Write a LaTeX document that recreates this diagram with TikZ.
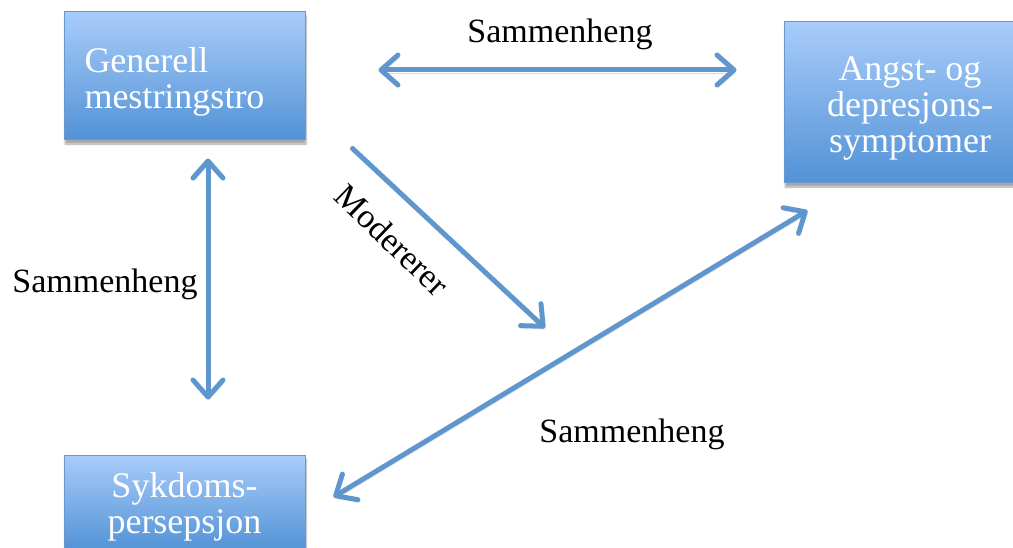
\documentclass[tikz,border=0pt]{standalone}
\usepackage{fontspec}
\setmainfont{Liberation Serif}
\usetikzlibrary{arrows.meta,shadows.blur,positioning}
\definecolor{boxtop}{RGB}{168,204,250}
\definecolor{boxbot}{RGB}{82,146,214}
\definecolor{boxedge}{RGB}{104,152,208}
\definecolor{linkcol}{RGB}{95,150,205}
\definecolor{shadowcol}{RGB}{60,60,60}

\begin{document}
\begin{tikzpicture}[x=1pt, y=-1pt,
    every node/.style={font=\fontsize{36}{36}\selectfont},
    factor/.style={draw=boxedge, line width=1pt, top color=boxtop, bottom color=boxbot,
                   text=white, minimum width=241pt,
                   blur shadow={shadow xshift=1pt, shadow yshift=-4pt,
                                shadow opacity=35, shadow blur steps=6}},
    lbl/.style={font=\fontsize{34}{34}\selectfont},
    link/.style={draw=linkcol, line width=5pt, line cap=round,
                 preaction={draw=shadowcol, opacity=0.18,
                            transform canvas={xshift=1pt, yshift=-3pt}}},
    twoway/.style={link, {Straight Barb[length=17pt, width=30pt, round]}-{Straight Barb[length=17pt, width=30pt, round]}},
    oneway/.style={link, -{Straight Barb[length=17pt, width=30pt, round]}}]
  \clip (0,0) rectangle (1013,548);

  % factors
  \node[factor, minimum height=128pt, align=left, text width=200pt, inner xsep=20.5pt]
    (gen) at (184.5,76) {\rule{0pt}{37pt}Generell\\mestringstro};
  \node[factor, minimum width=252pt, minimum height=161pt, align=center]
    (angst) at (910,102.5) {\rule{0pt}{36pt}Angst- og\\depresjons-\\symptomer};
  \node[factor, minimum height=96pt, align=center]
    (syk) at (184.5,503) {\rule{0pt}{33pt}Sykdoms-\\persepsjon};

  % relations
  \coordinate (modend) at (545,328);
  \draw[twoway] ([xshift=73pt, yshift=6pt]gen.east) -- ([xshift=-47pt, yshift=32.5pt]angst.west);
  \draw[twoway] ([xshift=23.5pt, yshift=-18pt]gen.south) -- ([xshift=23.5pt, yshift=55pt]syk.north);
  \draw[oneway] ([xshift=47pt, yshift=-8pt]gen.south east) -- (modend);
  \draw[twoway] ([xshift=28pt, yshift=6pt]syk.east) -- ([xshift=24pt, yshift=-27pt]angst.south west);

  \node[lbl] (toplbl) at (560,34) {Sammenheng};
  \node[lbl] (leftlbl) at (105,284) {Sammenheng};
  \node[lbl] (botlbl) at (632,434) {Sammenheng};
  \node[lbl, rotate=-44] (modlbl) at (392,240) {Modererer};
\end{tikzpicture}
\end{document}
